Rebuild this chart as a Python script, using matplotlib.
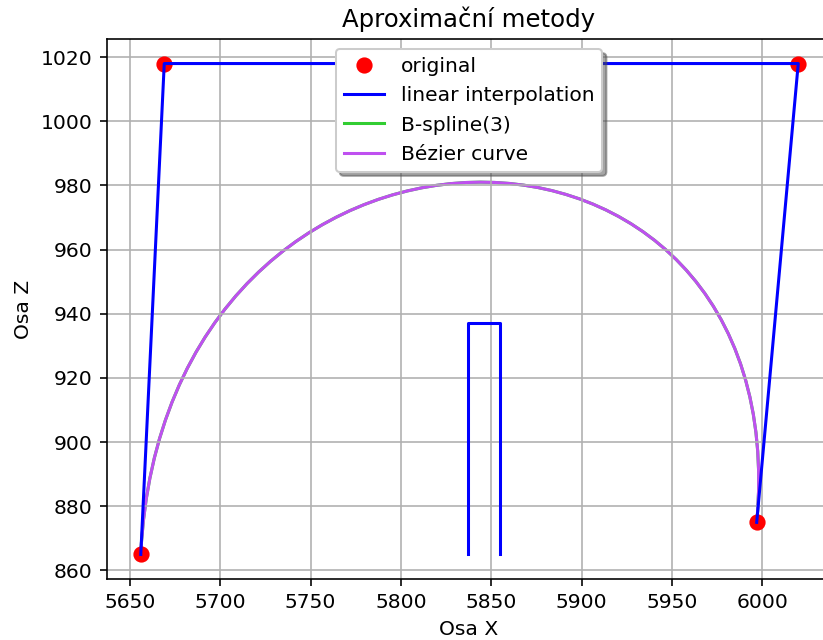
import numpy as np
import matplotlib
matplotlib.use('Agg')
import matplotlib.pyplot as plt
from matplotlib.path import Path
from matplotlib.patches import PathPatch
from matplotlib.lines import Line2D

# ridici body (original)
orig_x = [5656, 5669, 6020, 5997]
orig_z = [865, 1018, 1018, 875]

# samostatny usek linearni interpolace uprostred
rect_x = [5837, 5837, 5855, 5855]
rect_z = [865, 937, 937, 865]

BLUE = 'blue'
GREEN = '#32cd32'
PURPLE = '#bf50f0'

W, H, DPI = 823, 640, 146
fig = plt.figure(figsize=(W / DPI, H / DPI), dpi=DPI)
# prava hrana os lezi mimo obrazek -> osy konci na okraji
ax = fig.add_axes([107 / W, 61 / H, 716 / W, 540 / H])
ax.spines['right'].set_visible(False)

ax.plot(orig_x, orig_z, 'o', color='red', markersize=7, label='original')
ax.plot(orig_x, orig_z, color=BLUE, label='linear interpolation')
ax.plot(rect_x, rect_z, color=BLUE)

# kubicky B-spline se 4 body a Bezierova krivka - matplotlib CURVE4
verts = list(zip(orig_x, orig_z))
codes = [Path.MOVETO, Path.CURVE4, Path.CURVE4, Path.CURVE4]
ax.add_patch(PathPatch(Path(verts, codes), facecolor='none', edgecolor=GREEN, lw=1.5))
ax.add_patch(PathPatch(Path(verts, codes), facecolor='none', edgecolor=PURPLE, lw=1.5))

ax.set_xlim(5637.3, 6033.7)
ax.set_ylim(857.35, 1025.65)
ax.set_xticks(np.arange(5650, 6001, 50))
ax.set_yticks(np.arange(860, 1021, 20))
ax.grid(True)

ax.set_title('Aproximační metody', x=(469 - 107) / 716)
ax.set_xlabel('Osa X', x=(469 - 107) / 716)
ax.set_ylabel('Osa Z')

handles = [
    Line2D([], [], marker='o', ls='none', color='red', markersize=7),
    Line2D([], [], color=BLUE),
    Line2D([], [], color=GREEN),
    Line2D([], [], color=PURPLE),
]
labels = ['original', 'linear interpolation', 'B-spline(3)', 'Bézier curve']
ax.legend(handles, labels, loc='upper center', shadow=True,
          bbox_to_anchor=((469 - 107) / 716, 1.0))

fig.savefig('out.png', dpi=DPI)
